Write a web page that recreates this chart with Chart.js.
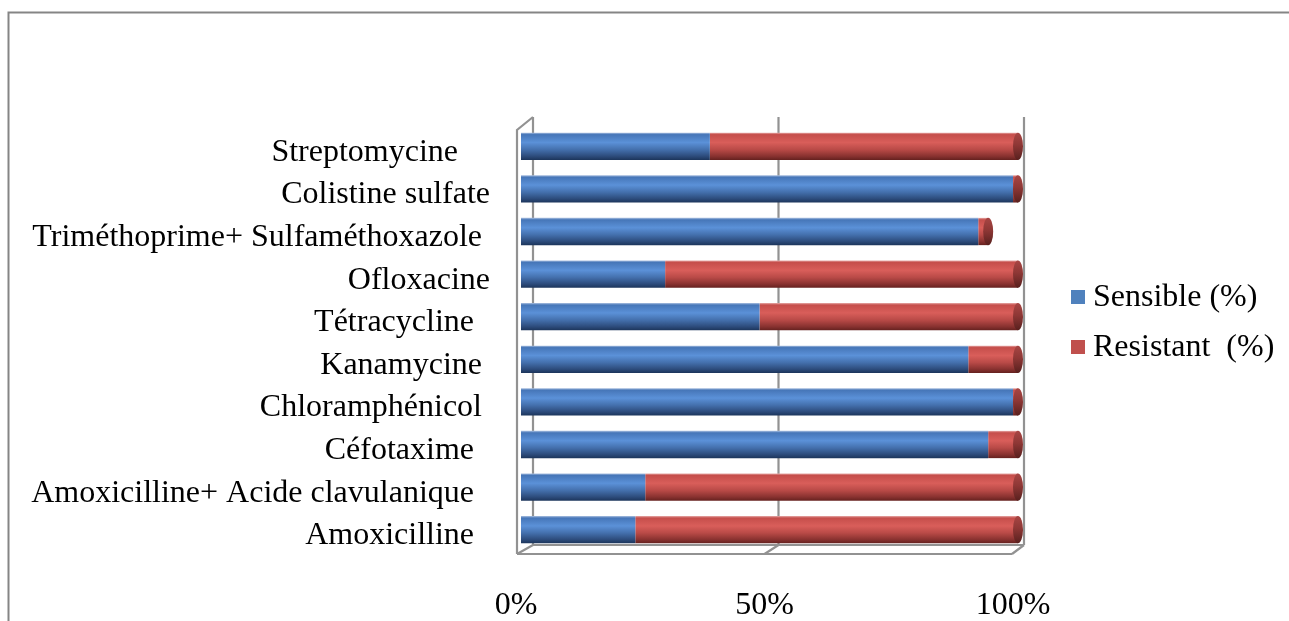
<!DOCTYPE html>
<html>
<head>
<meta charset="utf-8">
<script src="https://cdn.jsdelivr.net/npm/chart.js@4.4.1/dist/chart.umd.min.js"></script>
<style>
  html, body { margin: 0; padding: 0; background: #ffffff; }
  #wrap { width: 1289px; height: 621px; position: relative; }
</style>
</head>
<body>
<div id="wrap"><canvas id="chart" width="1289" height="621"></canvas></div>
<script>
// Antibiotic susceptibility, top row first
const categories = [
  'Streptomycine    ',
  'Colistine sulfate',
  'Triméthoprime+ Sulfaméthoxazole ',
  'Ofloxacine',
  'Tétracycline  ',
  'Kanamycine ',
  'Chloramphénicol ',
  'Céfotaxime  ',
  'Amoxicilline+ Acide clavulanique  ',
  'Amoxicilline  '
];
const sensible  = [38, 99, 92, 29, 48, 90, 99, 94, 25, 23];
const resistant = [62,  1,  2, 71, 52, 10,  1,  6, 75, 77];
const seriesNames = ['Sensible (%)', 'Resistant  (%)'];
const xTicks = [0, 50, 100];

const FONT = "'Liberation Serif', 'Times New Roman', serif";
const BAR_PCT = 0.64;

const BLUE_STOPS = [
  [0.00, '#a9bfe0'], [0.07, '#4676b8'], [0.36, '#5b91d8'],
  [0.62, '#4470ad'], [0.86, '#2d4c7c'], [1.00, '#1c355b']
];
const RED_STOPS = [
  [0.00, '#e6a8a6'], [0.07, '#c54e4b'], [0.36, '#d95e5a'],
  [0.62, '#b94a47'], [0.86, '#893230'], [1.00, '#65211f']
];
const RED_CAP = [[0, '#a84644'], [0.45, '#8e3735'], [1, '#58201e']];
const BLUE_CAP = [[0, '#3d6aa5'], [0.45, '#305a92'], [1, '#1e375c']];

function cylinderFill(stops) {
  return (c) => {
    const chart = c.chart;
    const ys = chart.scales && chart.scales.y;
    if (c.type !== 'data' || !ys || !chart.chartArea) return stops[2][1];
    const yc = ys.getPixelForValue(c.dataIndex);
    const h = (ys.height / categories.length) * BAR_PCT;
    const g = chart.ctx.createLinearGradient(0, yc - h / 2, 0, yc + h / 2);
    stops.forEach(([o, col]) => g.addColorStop(o, col));
    return g;
  };
}

// Outer frame, 3D walls and floor behind the bars
const frame3d = {
  id: 'frame3d',
  beforeDatasetsDraw(chart) {
    const { ctx, chartArea } = chart;
    const xs = chart.scales.x;
    const backX = v => xs.getPixelForValue(v) + 12 - 6 * v / 100;
    const frontX = v => xs.getPixelForValue(v) - 4 - 2 * v / 100;
    const backTop = chartArea.top - 8, backBottom = chartArea.bottom - 6;
    const frontTop = chartArea.top + 5, frontBottom = chartArea.bottom + 3;

    ctx.save();
    // outer frame
    ctx.strokeStyle = '#858585';
    ctx.lineWidth = 2;
    ctx.beginPath();
    ctx.moveTo(chart.width, 12.5);
    ctx.lineTo(8.5, 12.5);
    ctx.lineTo(8.5, chart.height);
    ctx.stroke();

    ctx.strokeStyle = '#929292';
    ctx.lineWidth = 2.2;
    ctx.beginPath();
    xTicks.forEach(v => {
      ctx.moveTo(backX(v), backTop);
      ctx.lineTo(backX(v), backBottom);
    });
    // left side panel
    ctx.moveTo(frontX(0), frontBottom);
    ctx.lineTo(frontX(0), frontTop);
    ctx.lineTo(backX(0), backTop);
    // floor
    ctx.moveTo(frontX(0), frontBottom);
    ctx.lineTo(frontX(100), frontBottom);
    ctx.moveTo(backX(0), backBottom);
    ctx.lineTo(backX(100), backBottom);
    xTicks.forEach(v => {
      ctx.moveTo(frontX(v), frontBottom);
      ctx.lineTo(backX(v), backBottom);
    });
    ctx.stroke();
    ctx.restore();
  },
  afterDatasetsDraw(chart) {
    const { ctx } = chart;
    const m0 = chart.getDatasetMeta(0), m1 = chart.getDatasetMeta(1);
    ctx.save();
    categories.forEach((_, i) => {
      const useRed = resistant[i] > 0;
      const el = useRed ? m1.data[i] : m0.data[i];
      if (!el) return;
      const { x, y, height } = el.getProps(['x', 'y', 'height'], true);
      const stops = useRed ? RED_CAP : BLUE_CAP;
      const g = ctx.createLinearGradient(0, y - height / 2, 0, y + height / 2);
      stops.forEach(([o, col]) => g.addColorStop(o, col));
      ctx.fillStyle = g;
      ctx.beginPath();
      ctx.ellipse(x, y, 5, height / 2, 0, 0, Math.PI * 2);
      ctx.fill();
    });
    ctx.restore();
  },
  afterDraw(chart) {
    const { ctx } = chart;
    const colors = ['#4f81bd', '#c0504d'];
    const rows = [297, 347];
    ctx.save();
    ctx.font = '32px ' + FONT;
    ctx.textBaseline = 'middle';
    ctx.textAlign = 'left';
    seriesNames.forEach((name, k) => {
      ctx.fillStyle = colors[k];
      ctx.fillRect(1071, rows[k] - 7, 14, 14);
      ctx.fillStyle = '#000000';
      ctx.fillText(name, 1093, rows[k] + 1);
    });
    ctx.restore();
  }
};

new Chart(document.getElementById('chart'), {
  type: 'bar',
  data: {
    labels: categories,
    datasets: [
      { label: seriesNames[0], data: sensible, backgroundColor: cylinderFill(BLUE_STOPS) },
      { label: seriesNames[1], data: resistant, backgroundColor: cylinderFill(RED_STOPS) }
    ]
  },
  options: {
    indexAxis: 'y',
    responsive: false,
    devicePixelRatio: 1,
    animation: false,
    events: [],
    datasets: { bar: { categoryPercentage: 1, barPercentage: BAR_PCT, borderWidth: 0 } },
    layout: { padding: { left: 0, top: 125, right: 271, bottom: 0 } },
    plugins: { legend: { display: false }, tooltip: { enabled: false } },
    scales: {
      x: {
        stacked: true,
        min: 0,
        max: 100,
        afterFit: s => { s.height = 70; },
        afterBuildTicks: s => { s.ticks = xTicks.map(v => ({ value: v })); },
        ticks: {
          callback: v => v + '%',
          font: { family: FONT, size: 32 },
          color: '#000000',
          padding: 35,
          labelOffset: -5,
          maxRotation: 0,
          autoSkip: false
        },
        grid: { display: false, drawTicks: false },
        border: { display: false }
      },
      y: {
        stacked: true,
        afterFit: s => { s.width = 521; },
        ticks: {
          font: { family: FONT, size: 32 },
          color: '#000000',
          padding: 31,
          labelOffset: 6,
          autoSkip: false
        },
        grid: { display: false, drawTicks: false },
        border: { display: false }
      }
    }
  },
  plugins: [frame3d]
});
</script>
</body>
</html>
